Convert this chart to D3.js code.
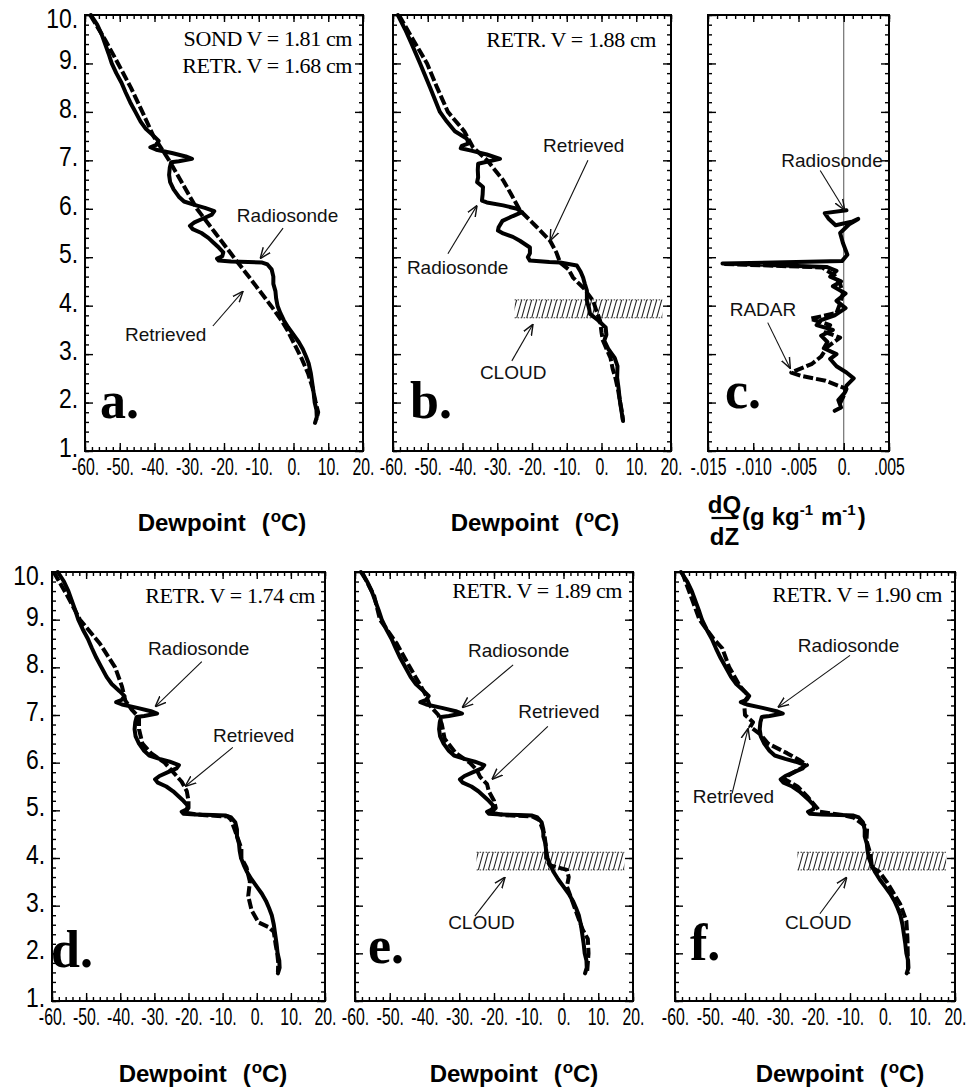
<!DOCTYPE html>
<html>
<head>
<meta charset="UTF-8">
<title>Radiosonde and retrieved dewpoint profiles</title>
<script src="https://cdn.jsdelivr.net/npm/d3@7"></script>
<style>
  body { margin: 0; background: #fff; }
  svg { display: block; background: #fff; }
  .frame { fill: none; stroke: #000; stroke-width: 2; }
  .axis .domain { display: none; }
  .axis line { stroke: #000; stroke-width: 1.4; }
  .xt text { font-family: "Liberation Sans", Arial, sans-serif; font-size: 24px; fill: #000; }
  .yt text { font-family: "Liberation Sans", Arial, sans-serif; font-size: 27px; fill: #000; }
  .sonde { fill: none; stroke: #000; stroke-width: 4; stroke-linejoin: round; stroke-linecap: round; }
  .retr { fill: none; stroke: #000; stroke-width: 4; stroke-dasharray: 10 3; stroke-linejoin: round; }
  .zero { stroke: #555; stroke-width: 1; }
  .note { font-family: "Liberation Sans", Arial, sans-serif; font-size: 19px; fill: #111; }
  .arrow { stroke: #111; stroke-width: 1.1; fill: none; }
  .vtext { font-family: "Liberation Serif", "Times New Roman", serif; font-size: 22px; fill: #000; letter-spacing: -0.4px; }
  .letter { font-family: "Liberation Serif", "Times New Roman", serif; font-weight: bold; font-size: 52px; }
  .title { font-family: "Liberation Sans", Arial, sans-serif; font-weight: bold; font-size: 24px; }
</style>
</head>
<body>
<svg id="fig" width="967" height="1089"></svg>
<script>
// ---- data ----
var heightTicks = [1, 2, 3, 4, 5, 6, 7, 8, 9, 10];
var dewTicks = [-60, -50, -40, -30, -20, -10, 0, 10, 20];
var gradTicks = [-0.015, -0.010, -0.005, 0, 0.005];

// radiosonde dewpoint, same sounding in a, d, e, f  [km, degC]
var sondeDay1 = [[10.0,-58.3],[9.8,-56.5],[9.6,-55.2],[9.4,-54.2],[9.2,-53.2],[9.0,-52.3],[8.8,-51],[8.6,-49.5],
  [8.4,-48.3],[8.2,-47],[8.0,-45.5],[7.8,-44],[7.65,-42.5],[7.5,-40.2],[7.4,-38.8],[7.32,-39.5],[7.27,-41.2],
  [7.22,-39.5],[7.15,-35],[7.08,-31],[7.03,-29.2],[6.98,-33],[6.96,-35.2],[6.85,-35.6],[6.7,-35.8],[6.55,-35.5],
  [6.4,-34.5],[6.25,-33],[6.15,-31.5],[6.08,-28.5],[6.02,-25.5],[5.95,-22.8],[5.88,-23.5],[5.8,-26],[5.72,-28.5],
  [5.65,-29.8],[5.58,-29],[5.5,-26.5],[5.4,-24.5],[5.3,-23],[5.2,-21.5],[5.1,-20.2],[5.02,-20.5],[4.97,-22],
  [4.93,-21.5],[4.91,-18],[4.9,-13],[4.89,-9],[4.85,-7.5],[4.75,-6.3],[4.6,-5.8],[4.45,-5.8],[4.3,-5.2],
  [4.15,-5.0],[4.0,-4.6],[3.85,-3.8],[3.7,-2.8],[3.55,-1.5],[3.4,0],[3.25,1.5],[3.1,2.7],[2.95,3.6],[2.8,4.4],
  [2.6,5],[2.4,5.4],[2.2,5.8],[2.0,6.1],[1.85,6.6],[1.7,6.7],[1.58,6.2]];

var retrA = [[10,-58.5],[9.5,-54.3],[9,-50.5],[8.5,-46.8],[8,-43.5],[7.5,-40.3],[7,-35.8],[6.5,-31.8],[6,-27.8],
  [5.5,-22.5],[5,-17.2],[4.5,-11.8],[4,-6.5],[3.7,-3.5],[3.5,-1.8],[3.2,0.3],[2.9,2.4],[2.6,4.2],[2.3,5.5],
  [2.0,6.4],[1.8,7.1],[1.65,6.6]];

var retrD = [[10,-59.5],[9.5,-55.5],[9,-51.8],[8.5,-46],[8,-41.5],[7.6,-39.5],[7.3,-38.5],[7.1,-36.5],
  [6.95,-34.5],[6.7,-34.5],[6.4,-33.5],[6.2,-31],[6.0,-27],[5.8,-24.5],[5.6,-22],[5.4,-20.5],[5.2,-20],
  [5.05,-20],[4.95,-21],[4.9,-16],[4.87,-8.5],[4.8,-7.5],[4.6,-6.5],[4.4,-5.5],[4.2,-4.5],[4.0,-4.5],[3.8,-3],
  [3.5,-2],[3.2,-2.5],[2.9,-1.5],[2.65,0.5],[2.55,3.5],[2.45,5],[2.2,5.5],[2.0,6],[1.8,6.3],[1.6,6.2]];

var retrE = [[10,-58],[9.5,-54.5],[9,-52.8],[8.5,-48],[8,-44.2],[7.6,-41],[7.4,-39.5],[7.2,-38.5],[7.0,-36],
  [6.8,-35],[6.5,-34.2],[6.2,-31],[6.0,-27],[5.85,-25],[5.7,-24],[5.55,-22],[5.4,-21.5],[5.2,-20],[5.05,-19.5],
  [4.95,-21],[4.9,-17],[4.87,-9],[4.8,-7],[4.5,-5.5],[4.2,-5],[4.0,-5],[3.85,-4],[3.75,1],[3.6,1.5],[3.4,1],
  [3.1,2.5],[2.8,4],[2.5,5.5],[2.3,7],[2.0,7.2],[1.8,7],[1.62,6.8]];

var retrF = [[10,-58],[9.5,-55.5],[9,-53],[8.6,-49],[8.4,-46.5],[8,-44.5],[7.6,-41.4],[7.4,-39],[7.3,-40],
  [7.2,-40.2],[7.0,-40],[6.85,-37.7],[6.75,-38.5],[6.6,-35.7],[6.4,-33.4],[6.2,-28],[6.05,-24.3],[5.95,-22.3],
  [5.8,-26],[5.67,-29],[5.5,-25],[5.3,-22.3],[5.05,-19.4],[4.97,-18.6],[4.9,-12],[4.85,-9],[4.64,-5.1],
  [4.37,-5.3],[4.09,-4.2],[3.8,-3.7],[3.7,-1.5],[3.5,0.5],[3.38,1.5],[3.04,4.3],[2.68,6.1],[2.33,6.4],[2.0,6.5],
  [1.57,6.6]];

// second sounding, panel b  [km, degC]
var sondeB = [[10,-58.6],[9.7,-56.5],[9.4,-54.6],[9.0,-52.2],[8.5,-49.3],[8.0,-46.5],[7.8,-44.5],[7.6,-42.2],
  [7.45,-38.8],[7.35,-38.2],[7.3,-40.2],[7.25,-40.5],[7.2,-37.5],[7.12,-33],[7.03,-29.2],[6.97,-33],[6.93,-35.5],
  [6.8,-35.6],[6.65,-35.5],[6.55,-35.8],[6.45,-34.1],[6.3,-34.2],[6.17,-34.4],[6.13,-33],[6.07,-28.3],[6.0,-24.3],
  [5.93,-22.9],[5.85,-25.5],[5.75,-28.5],[5.62,-29.6],[5.55,-29.8],[5.49,-28.3],[5.42,-25.5],[5.34,-23.5],
  [5.2,-20.6],[5.08,-20.6],[5.0,-21.2],[4.93,-20.6],[4.9,-15],[4.89,-11.9],[4.83,-7.1],[4.7,-6],[4.58,-5.3],
  [4.45,-4.8],[4.31,-4.2],[4.1,-4.2],[3.95,-3.6],[3.83,-3.3],[3.7,-1],[3.55,1.2],[3.4,1.4],[3.28,0.8],[3.1,2.0],
  [2.92,3.8],[2.75,4.6],[2.51,4.5],[2.3,4.9],[2.03,5.3],[1.8,5.8],[1.62,6.2]];
var retrB = [[10,-58.3],[9.5,-54.3],[9.0,-50.2],[8.5,-47.3],[8.0,-44.2],[7.6,-39.5],[7.27,-37],[7.0,-32.9],
  [6.59,-28.3],[6.3,-26],[5.97,-23.5],[5.65,-19],[5.34,-14.8],[5.1,-13],[4.89,-11.9],[4.75,-9.5],[4.58,-8.2],
  [4.35,-5],[4.1,-2.4],[3.9,-1.5],[3.69,-0.4],[3.45,0],[3.28,0.4],[3.1,1.5],[2.92,2.6],[2.7,3.2],[2.51,4],
  [2.25,4.8],[2.03,5.3],[1.8,5.9],[1.62,6.2]];

// moisture gradient dQ/dZ, panel c  [km, g/kg/m]
var gradSonde = [[5.97,0.0003],[5.91,-0.0021],[5.8,-0.0017],[5.66,-0.0009],[5.74,0.0010],[5.79,0.0016],
  [5.68,0.0006],[5.5,-0.0004],[5.3,-0.0001],[5.05,0.0004],[4.92,-0.0002],[4.87,-0.0134],[4.8,-0.0019],
  [4.72,-0.0008],[4.6,-0.0015],[4.5,-0.0003],[4.4,-0.0012],[4.25,0.0002],[4.1,-0.0008],[3.95,0.0002],
  [3.8,-0.0010],[3.7,-0.0025],[3.6,-0.0030],[3.5,-0.0012],[3.38,-0.0025],[3.25,-0.0018],[3.12,-0.0022],
  [3.0,-0.0008],[2.9,-0.0015],[2.75,-0.0008],[2.62,0.0003],[2.5,0.0011],[2.35,0.0003],[2.2,0.0001],
  [2.05,-0.0006],[1.9,-0.0003],[1.83,-0.0010]];
var gradRadar = [[4.86,-0.0132],[4.79,-0.0024],[4.62,-0.0010],[4.45,-0.0004],[4.25,-0.0001],[4.05,-0.0004],
  [3.85,-0.0008],[3.73,-0.0037],[3.6,-0.0015],[3.45,-0.0020],[3.34,-0.0004],[3.15,-0.0018],[2.95,-0.0025],
  [2.8,-0.0035],[2.62,-0.0058],[2.55,-0.0047],[2.45,-0.0020],[2.28,0.0003],[2.1,-0.0001],[1.95,-0.0005],
  [1.86,-0.0004]];

// cloud layer (km) and its drawn extent (degC)
var cloudLayer = [3.75, 4.12];
var cloudSpan = [-25, 17.5];

var vText = {
  a: ["SOND V = 1.81 cm", "RETR. V = 1.68 cm"],
  b: ["RETR. V = 1.88 cm"],
  d: ["RETR. V = 1.74 cm"],
  e: ["RETR. V = 1.89 cm"],
  f: ["RETR. V = 1.90 cm"]
};

// labels with arrows: text at [x, km], arrow from -> to
var notes = {
  a: [{t: "Radiosonde", at: [-16.3, 5.72], from: [-3, 5.6], to: [-9.6, 4.97]},
      {t: "Retrieved", at: [-48.5, 3.28], from: [-23.2, 3.58], to: [-14.5, 4.3]}],
  b: [{t: "Retrieved", at: [-16.8, 7.17], from: [-3.9, 7.0], to: [-14.8, 5.34]},
      {t: "Radiosonde", at: [-56, 4.66], from: [-44.2, 5.07], to: [-35.8, 6.07]},
      {t: "CLOUD", at: [-35, 2.49], from: [-25.8, 2.86], to: [-19.7, 3.62]}],
  c: [{t: "Radiosonde", at: [-0.0069, 6.86], from: [-0.0026, 6.79], to: [0.0001, 5.97]},
      {t: "RADAR", at: [-0.0126, 3.79], from: [-0.0084, 3.65], to: [-0.0059, 2.7]}],
  d: [{t: "Radiosonde", at: [-31.9, 8.26], from: [-16.1, 8.12], to: [-29.8, 7.17]},
      {t: "Retrieved", at: [-12.8, 6.44], from: [-7.0, 6.32], to: [-21.0, 5.5]}],
  e: [{t: "Radiosonde", at: [-27.5, 8.22], from: [-14.5, 8.05], to: [-29.2, 7.15]},
      {t: "Retrieved", at: [-13, 6.94], from: [-4.5, 6.76], to: [-20.6, 5.65]},
      {t: "CLOUD", at: [-33.2, 2.51], from: [-25.5, 2.78], to: [-16.8, 3.6]}],
  f: [{t: "Radiosonde", at: [-24.9, 8.32], from: [-10, 8.25], to: [-30.6, 7.16]},
      {t: "Retrieved", at: [-54.9, 5.16], from: [-43.7, 5.35], to: [-39.1, 6.72]},
      {t: "CLOUD", at: [-28.6, 2.51], from: [-18.6, 2.83], to: [-10.9, 3.6]}]
};

// ---- layout ----
var panels = [
  {key: "a", x0: 85, x1: 363, y0: 15, y1: 451, grad: false, yLabels: true, cloud: false,
   series: [[retrA, "retr"], [sondeDay1, "sonde"]], letter: [15, 418], vEnd: 11, vBase: 31, titleX: 222, titleY: 531},
  {key: "b", x0: 393, x1: 671, y0: 15, y1: 451, grad: false, yLabels: false, cloud: true,
   series: [[retrB, "retr"], [sondeB, "sonde"]], letter: [17, 418], vEnd: 15, vBase: 32, titleX: 535, titleY: 531},
  {key: "c", x0: 708, x1: 889, y0: 15, y1: 451, grad: true, yLabels: false, cloud: false,
   series: [[gradRadar, "retr"], [gradSonde, "sonde"]], letter: [17, 408]},
  {key: "d", x0: 52, x1: 325, y0: 572, y1: 1001, grad: false, yLabels: true, cloud: false,
   series: [[retrD, "retr"], [sondeDay1, "sonde"]], letter: [-1, 967], vEnd: 10, vBase: 31, titleX: 203, titleY: 1082},
  {key: "e", x0: 355, x1: 633, y0: 572, y1: 1001, grad: false, yLabels: false, cloud: true,
   series: [[retrE, "retr"], [sondeDay1, "sonde"]], letter: [13, 963], vEnd: 11, vBase: 26, titleX: 514, titleY: 1082},
  {key: "f", x0: 675, x1: 955, y0: 572, y1: 1001, grad: false, yLabels: false, cloud: true,
   series: [[retrF, "retr"], [sondeDay1, "sonde"]], letter: [15, 960], vEnd: 13, vBase: 30, titleX: 840, titleY: 1082}
];

var svg = d3.select("#fig");
var defs = svg.append("defs");
defs.append("marker")
  .attr("id", "ah").attr("viewBox", "0 0 10 10").attr("refX", 10).attr("refY", 5)
  .attr("markerWidth", 11).attr("markerHeight", 11).attr("markerUnits", "userSpaceOnUse")
  .attr("orient", "auto")
  .append("path").attr("d", "M0,1 L10,5 L0,9").attr("fill", "none").attr("stroke", "#111").attr("stroke-width", 1.3);
defs.append("pattern")
  .attr("id", "hatch").attr("patternUnits", "userSpaceOnUse").attr("width", 5).attr("height", 18)
  .append("path").attr("d", "M-5,18 L0,0 M0,18 L5,0 M5,18 L10,0")
  .attr("stroke", "#222").attr("stroke-width", 1.1);

var dewFmt = function(d) { return d + "."; };
var gradFmt = function(d) {
  if (d === 0) return "0.";
  return (d < 0 ? "-" : "") + d3.format(".3f")(Math.abs(d)).replace(/^0/, "");
};

panels.forEach(function(p) {
  var xDomain = p.grad ? [-0.015, 0.005] : [-60, 20];
  var x = d3.scaleLinear().domain(xDomain).range([p.x0, p.x1]);
  var y = d3.scaleLinear().domain([1, 10]).range([p.y1, p.y0]);
  var g = svg.append("g").attr("class", "panel panel-" + p.key);

  // cloud layer
  if (p.cloud) {
    var cx0 = x(cloudSpan[0]), cx1 = x(cloudSpan[1]);
    var cy0 = y(cloudLayer[1]), cy1 = y(cloudLayer[0]);
    g.append("rect").attr("x", cx0).attr("y", cy0).attr("width", cx1 - cx0).attr("height", cy1 - cy0)
      .attr("fill", "url(#hatch)");
    [cy0, cy1].forEach(function(cy) {
      g.append("line").attr("x1", cx0).attr("x2", cx1).attr("y1", cy).attr("y2", cy)
        .attr("stroke", "#333").attr("stroke-width", 1).attr("stroke-dasharray", "1.5 1.5");
    });
  }

  // zero line for gradient panel
  if (p.grad) {
    g.append("line").attr("class", "zero").attr("x1", x(0)).attr("x2", x(0)).attr("y1", p.y0).attr("y2", p.y1);
  }

  // profiles
  var line = d3.line().x(function(d) { return x(d[1]); }).y(function(d) { return y(d[0]); });
  p.series.forEach(function(s) {
    g.append("path").datum(s[0]).attr("class", s[1]).attr("d", line);
  });

  // axes: minor and major ticks, all inward
  var ticksX = p.grad ? gradTicks : dewTicks;
  var minorX = p.grad ? d3.range(-15, 6).map(function(i) { return i / 1000; }) : d3.range(-60, 21, 2);
  var minorY = d3.range(5, 51).map(function(i) { return i / 5; });
  var fmtX = p.grad ? gradFmt : dewFmt;

  var bottom = g.append("g").attr("transform", "translate(0," + p.y1 + ")");
  bottom.append("g").attr("class", "axis").call(d3.axisBottom(x).tickValues(minorX).tickSize(-4).tickFormat(""));
  bottom.append("g").attr("class", "axis xt")
    .call(d3.axisBottom(x).tickValues(ticksX).tickSize(-8).tickPadding(7).tickFormat(fmtX));
  bottom.selectAll(".xt text").attr("transform", "scale(0.66,1)");

  var top = g.append("g").attr("transform", "translate(0," + p.y0 + ")");
  top.append("g").attr("class", "axis").call(d3.axisTop(x).tickValues(minorX).tickSize(-4).tickFormat(""));
  top.append("g").attr("class", "axis").call(d3.axisTop(x).tickValues(ticksX).tickSize(-7).tickFormat(""));

  var left = g.append("g").attr("transform", "translate(" + p.x0 + ",0)");
  left.append("g").attr("class", "axis").call(d3.axisLeft(y).tickValues(minorY).tickSize(-4).tickFormat(""));
  left.append("g").attr("class", "axis yt")
    .call(d3.axisLeft(y).tickValues(heightTicks).tickSize(-8).tickPadding(8)
      .tickFormat(p.yLabels ? dewFmt : ""));
  // top label sits a little lower so it stays inside the page
  left.selectAll(".yt text").attr("transform", "scale(0.85,1)")
    .attr("dy", function(d) { return d === 10 ? "0.48em" : "0.2em"; });

  var right = g.append("g").attr("transform", "translate(" + p.x1 + ",0)");
  right.append("g").attr("class", "axis").call(d3.axisRight(y).tickValues(minorY).tickSize(-4).tickFormat(""));
  right.append("g").attr("class", "axis").call(d3.axisRight(y).tickValues(heightTicks).tickSize(-8).tickFormat(""));

  g.append("rect").attr("class", "frame")
    .attr("x", p.x0).attr("y", p.y0).attr("width", p.x1 - p.x0).attr("height", p.y1 - p.y0);

  // notes with arrows
  (notes[p.key] || []).forEach(function(n) {
    g.append("text").attr("class", "note").attr("x", x(n.at[0])).attr("y", y(n.at[1])).text(n.t);
    g.append("line").attr("class", "arrow")
      .attr("x1", x(n.from[0])).attr("y1", y(n.from[1]))
      .attr("x2", x(n.to[0])).attr("y2", y(n.to[1]))
      .attr("marker-end", "url(#ah)");
  });

  // water vapour text
  (vText[p.key] || []).forEach(function(t, i) {
    g.append("text").attr("class", "vtext").attr("text-anchor", "end")
      .attr("x", p.x1 - p.vEnd).attr("y", p.y0 + p.vBase + i * 27).text(t);
  });

  // panel letter
  g.append("text").attr("class", "letter")
    .attr("x", p.x0 + p.letter[0]).attr("y", p.letter[1]).text(p.key + ".");

  // axis title
  if (!p.grad) {
    var tt = g.append("text").attr("class", "title").attr("text-anchor", "middle")
      .attr("x", p.titleX).attr("y", p.titleY);
    tt.append("tspan").text("Dewpoint");
    tt.append("tspan").attr("dx", 16).text("(");
    tt.append("tspan").attr("dy", -9).attr("dx", 1).attr("font-size", 17).text("o");
    tt.append("tspan").attr("dy", 9).text("C)");
  } else {
    var fx = 724.5;
    g.append("text").attr("class", "title").attr("text-anchor", "middle").attr("x", fx).attr("y", 513).text("dQ");
    g.append("line").attr("x1", fx - 13).attr("x2", fx + 13).attr("y1", 518).attr("y2", 518)
      .attr("stroke", "#000").attr("stroke-width", 2.2);
    g.append("text").attr("class", "title").attr("text-anchor", "middle").attr("x", fx).attr("y", 545).text("dZ");
    var ut = g.append("text").attr("class", "title").attr("x", 742).attr("y", 525);
    ut.append("tspan").text("(g");
    ut.append("tspan").attr("dx", 7).text("kg");
    ut.append("tspan").attr("dy", -10).attr("font-size", 15).text("-1");
    ut.append("tspan").attr("dy", 10).attr("dx", 8).text("m");
    ut.append("tspan").attr("dy", -10).attr("font-size", 15).text("-1");
    ut.append("tspan").attr("dy", 10).attr("dx", 2).text(")");
  }
});
</script>
</body>
</html>
